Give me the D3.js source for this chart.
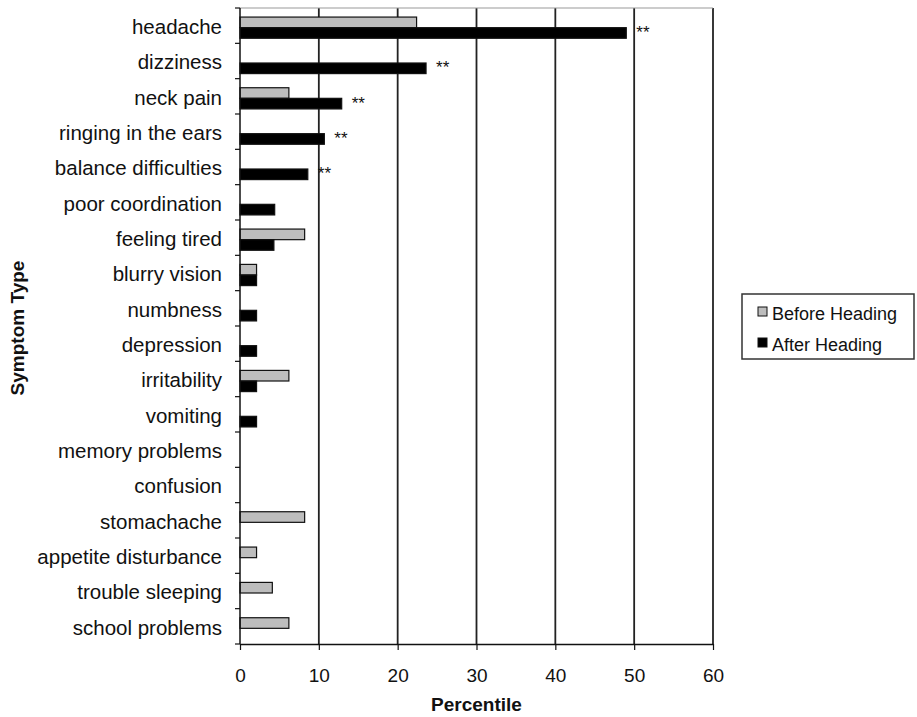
<!DOCTYPE html>
<html>
<head>
<meta charset="utf-8">
<script src="https://cdn.jsdelivr.net/npm/d3@7"></script>
<style>
  body { margin: 0; background: #fff; }
  svg { font-family: "Liberation Sans", Arial, sans-serif; }
</style>
</head>
<body>
<div id="chart"></div>
<script>
const symptoms = [
  "headache", "dizziness", "neck pain", "ringing in the ears",
  "balance difficulties", "poor coordination", "feeling tired",
  "blurry vision", "numbness", "depression", "irritability", "vomiting",
  "memory problems", "confusion", "stomachache", "appetite disturbance",
  "trouble sleeping", "school problems"
];
const beforeHeading = [22.4, 0, 6.2, 0, 0, 0, 8.2, 2.1, 0, 0, 6.2, 0, 0, 0, 8.2, 2.1, 4.1, 6.2];
const afterHeading = [49.0, 23.6, 12.9, 10.7, 8.6, 4.4, 4.3, 2.1, 2.1, 2.1, 2.1, 2.1, 0, 0, 0, 0, 0, 0];
const significant = ["headache", "dizziness", "neck pain", "ringing in the ears", "balance difficulties"];
const xTicks = [0, 10, 20, 30, 40, 50, 60];
const seriesNames = ["Before Heading", "After Heading"];

const width = 917, height = 717;
const margin = { top: 8, right: 204, bottom: 73, left: 240 };
const innerW = width - margin.left - margin.right;
const innerH = height - margin.top - margin.bottom;

const svg = d3.select("#chart").append("svg")
  .attr("width", width)
  .attr("height", height);

const g = svg.append("g")
  .attr("transform", `translate(${margin.left},${margin.top})`);

const x = d3.scaleLinear().domain([0, 60]).range([0, innerW]);
const y = d3.scaleBand().domain(symptoms).range([0, innerH]).paddingInner(0.4).paddingOuter(0.2);
const sub = d3.scaleBand().domain(seriesNames).range([2, y.bandwidth() + 2]);
const fills = { "Before Heading": "#bdbdbd", "After Heading": "#000" };

// vertical gridlines
g.selectAll(".grid")
  .data(xTicks.slice(1))
  .join("line")
  .attr("x1", (d) => x(d)).attr("x2", (d) => x(d))
  .attr("y1", 0).attr("y2", innerH)
  .attr("stroke", "#222").attr("stroke-width", 1.8);

// top border
g.append("line")
  .attr("x1", 0).attr("x2", innerW)
  .attr("y1", 0).attr("y2", 0)
  .attr("stroke", "#999").attr("stroke-width", 1.2);

const rows = symptoms.map((s, i) => ({
  name: s,
  values: [
    { key: "Before Heading", v: beforeHeading[i] },
    { key: "After Heading", v: afterHeading[i] },
  ],
}));

const row = g.selectAll(".row")
  .data(rows)
  .join("g")
  .attr("transform", (d) => `translate(0,${y(d.name)})`);

row.selectAll("rect")
  .data((d) => d.values.filter((b) => b.v > 0))
  .join("rect")
  .attr("x", 0)
  .attr("y", (d) => sub(d.key))
  .attr("width", (d) => x(d.v))
  .attr("height", sub.bandwidth())
  .attr("fill", (d) => fills[d.key])
  .attr("stroke", "#111")
  .attr("stroke-width", 1.2);

row.filter((d) => significant.includes(d.name))
  .append("text")
  .attr("x", (d) => x(d.values[1].v) + 10)
  .attr("y", sub("After Heading") + sub.bandwidth() / 2 + 5)
  .attr("font-size", 17)
  .attr("fill", "#111")
  .text("**");

// y axis with ticks on category boundaries
const yBounds = d3.range(symptoms.length + 1).map((i) => (innerH / symptoms.length) * i);
g.append("line")
  .attr("x1", 0).attr("x2", 0).attr("y1", 0).attr("y2", innerH)
  .attr("stroke", "#111").attr("stroke-width", 1.5);
g.selectAll(".ytick")
  .data(yBounds)
  .join("line")
  .attr("x1", -5).attr("x2", 0)
  .attr("y1", (d) => d).attr("y2", (d) => d)
  .attr("stroke", "#111").attr("stroke-width", 1.2);

g.selectAll(".ylabel")
  .data(symptoms)
  .join("text")
  .attr("x", -18)
  .attr("y", (d) => y(d) + y.bandwidth() / 2 + 3)
  .attr("text-anchor", "end")
  .attr("dominant-baseline", "middle")
  .attr("font-size", 20.5)
  .attr("fill", "#111")
  .text((d) => d);

// x axis
const xAxis = g.append("g")
  .attr("transform", `translate(0,${innerH})`)
  .call(d3.axisBottom(x).tickValues(xTicks).tickSize(6).tickPadding(19).tickSizeOuter(0));
xAxis.select(".domain").attr("stroke", "#111").attr("stroke-width", 1.5);
xAxis.selectAll(".tick line").attr("stroke", "#111").attr("stroke-width", 1.2);
xAxis.selectAll("text")
  .attr("font-size", 19)
  .attr("fill", "#111")
  .attr("font-family", "Liberation Sans, Arial, sans-serif");

svg.append("text")
  .attr("x", margin.left + innerW / 2)
  .attr("y", 711)
  .attr("text-anchor", "middle")
  .attr("font-size", 19)
  .attr("font-weight", "bold")
  .attr("fill", "#111")
  .text("Percentile");

svg.append("text")
  .attr("transform", "translate(24,328) rotate(-90)")
  .attr("text-anchor", "middle")
  .attr("font-size", 19)
  .attr("font-weight", "bold")
  .attr("fill", "#111")
  .text("Symptom Type");

// legend
const legend = svg.append("g").attr("transform", "translate(742,294)");
legend.append("rect")
  .attr("width", 172).attr("height", 65)
  .attr("fill", "#fff").attr("stroke", "#333").attr("stroke-width", 1.5);
const item = legend.selectAll(".item")
  .data(seriesNames)
  .join("g")
  .attr("transform", (d, i) => `translate(16,${21 + i * 31})`);
item.append("rect")
  .attr("x", 0).attr("y", -8)
  .attr("width", 9).attr("height", 9)
  .attr("fill", (d) => fills[d])
  .attr("stroke", "#111").attr("stroke-width", 1);
item.append("text")
  .attr("x", 14)
  .attr("y", 0)
  .attr("dominant-baseline", "middle")
  .attr("font-size", 18)
  .attr("fill", "#111")
  .text((d) => d);
</script>
</body>
</html>
